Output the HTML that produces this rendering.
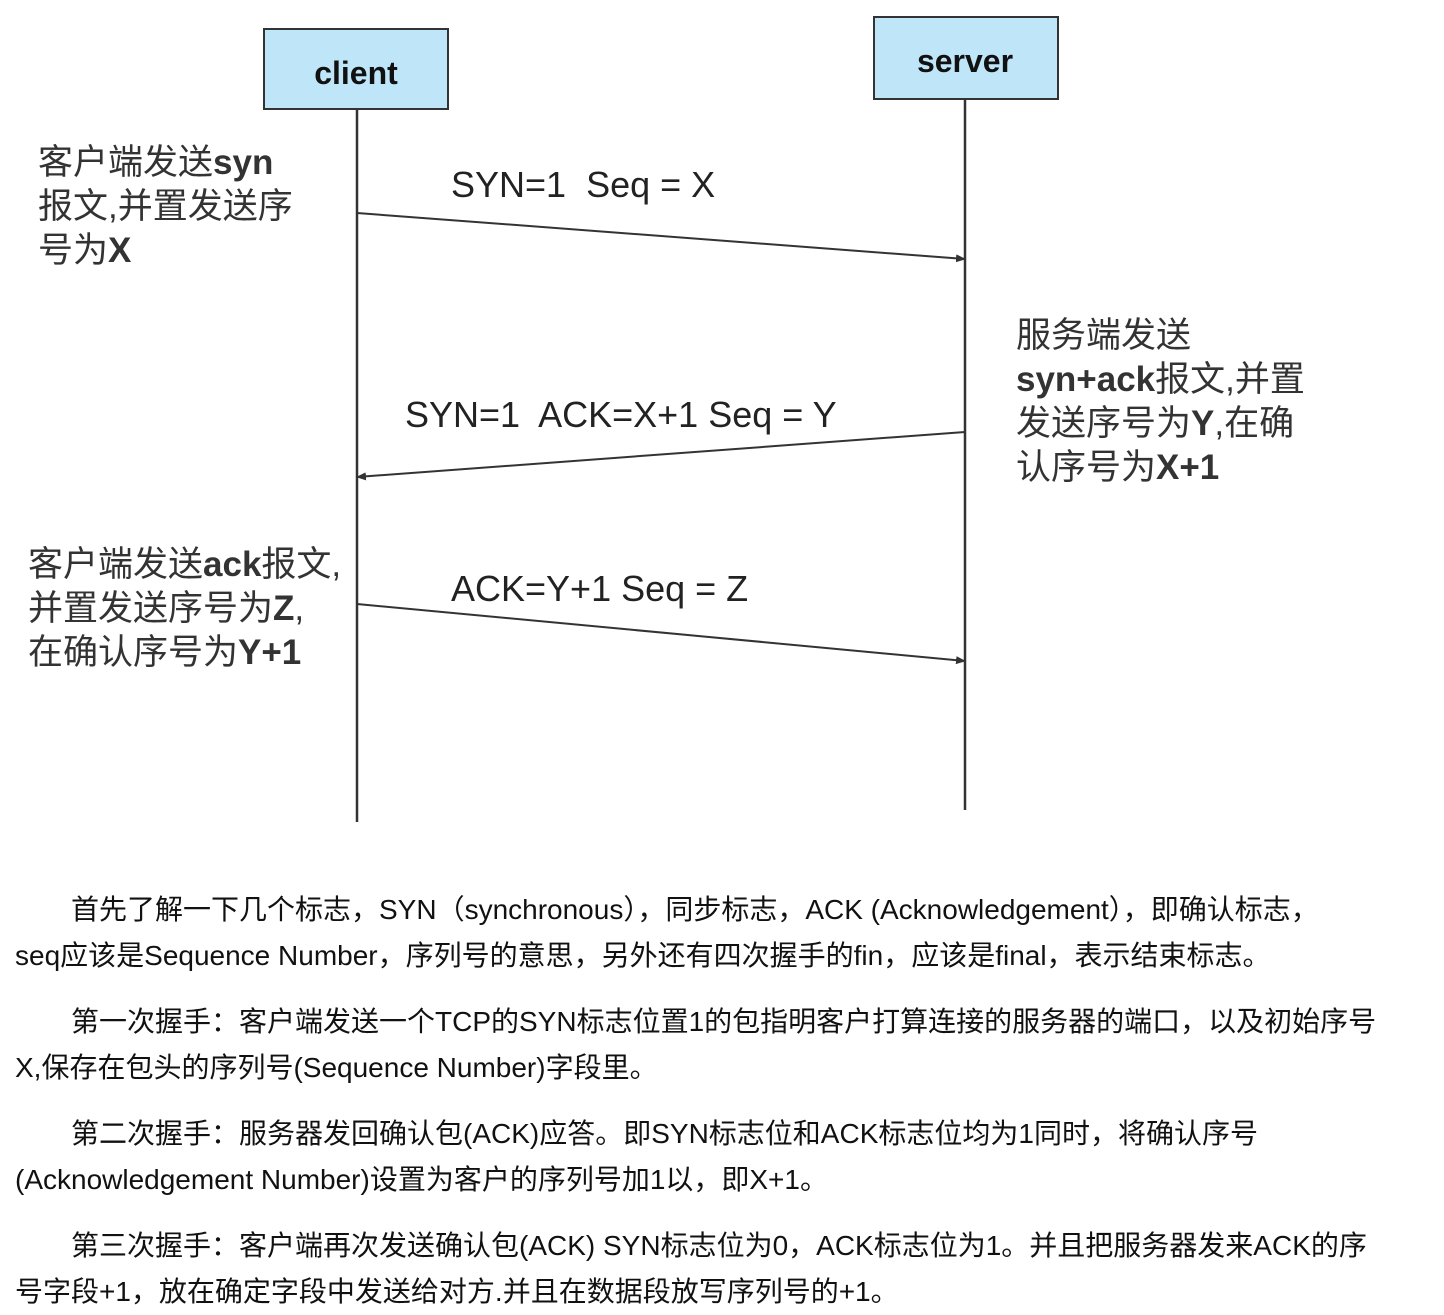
<!DOCTYPE html>
<html><head><meta charset="utf-8"><style>
body{margin:0;width:1444px;height:1306px;background:#fff;position:relative;overflow:hidden;font-family:"Liberation Sans","Noto Sans CJK SC",sans-serif;color:#222}
.t{position:absolute;white-space:nowrap}
.n{font-size:35px;line-height:44px;color:#333;letter-spacing:0px}
.a{font-size:36px;color:#222}
.p{position:absolute;left:15px;font-size:28px;line-height:46px;color:#111;white-space:nowrap}
</style></head><body>
<svg width="1444" height="860" style="position:absolute;left:0;top:0">
<defs><marker id="m" markerWidth="10" markerHeight="8" refX="9" refY="4" orient="auto" markerUnits="userSpaceOnUse"><path d="M0,0L10,4L0,8z" fill="#333"/></marker></defs>
<rect x="264" y="29" width="184" height="80" fill="#bfe6f8" stroke="#333" stroke-width="2"/>
<rect x="874" y="17" width="184" height="82" fill="#bfe6f8" stroke="#333" stroke-width="2"/>
<text x="356" y="84" text-anchor="middle" font-family="Liberation Sans" font-weight="bold" font-size="32" fill="#111">client</text>
<text x="965" y="72" text-anchor="middle" font-family="Liberation Sans" font-weight="bold" font-size="32" fill="#111">server</text>
<line x1="357" y1="109" x2="357" y2="822" stroke="#333" stroke-width="2.5"/>
<line x1="965" y1="99" x2="965" y2="810" stroke="#333" stroke-width="2.5"/>
<line x1="357" y1="213" x2="965" y2="259" stroke="#333" stroke-width="2" marker-end="url(#m)"/>
<line x1="965" y1="432" x2="357" y2="477" stroke="#333" stroke-width="2" marker-end="url(#m)"/>
<line x1="357" y1="604" x2="965" y2="661" stroke="#333" stroke-width="2" marker-end="url(#m)"/>
</svg>
<div class="t a" style="left:451px;top:164px">SYN=1&nbsp; Seq = X</div>
<div class="t a" style="left:405px;top:394px">SYN=1&nbsp; ACK=X+1 Seq = Y</div>
<div class="t a" style="left:451px;top:568px">ACK=Y+1 Seq = Z</div>
<div class="t n" style="left:38px;top:141px">客户端发送<b>syn</b><br>报文,并置发送序<br>号为<b>X</b></div>
<div class="t n" style="left:1016px;top:314px">服务端发送<br><b>syn+ack</b>报文,并置<br>发送序号为<b>Y</b>,在确<br>认序号为<b>X+1</b></div>
<div class="t n" style="left:28px;top:543px">客户端发送<b>ack</b>报文,<br>并置发送序号为<b>Z</b>,<br>在确认序号为<b>Y+1</b></div>
<div class="p" style="top:887px">&emsp;&emsp;首先了解一下几个标志，SYN（synchronous），同步标志，ACK (Acknowledgement），即确认标志，<br>seq应该是Sequence Number，序列号的意思，另外还有四次握手的fin，应该是final，表示结束标志。</div>
<div class="p" style="top:999px">&emsp;&emsp;第一次握手：客户端发送一个TCP的SYN标志位置1的包指明客户打算连接的服务器的端口，以及初始序号<br>X,保存在包头的序列号(Sequence Number)字段里。</div>
<div class="p" style="top:1111px">&emsp;&emsp;第二次握手：服务器发回确认包(ACK)应答。即SYN标志位和ACK标志位均为1同时，将确认序号<br>(Acknowledgement Number)设置为客户的序列号加1以，即X+1。</div>
<div class="p" style="top:1223px">&emsp;&emsp;第三次握手：客户端再次发送确认包(ACK) SYN标志位为0，ACK标志位为1。并且把服务器发来ACK的序<br>号字段+1，放在确定字段中发送给对方.并且在数据段放写序列号的+1。</div>
</body></html>
